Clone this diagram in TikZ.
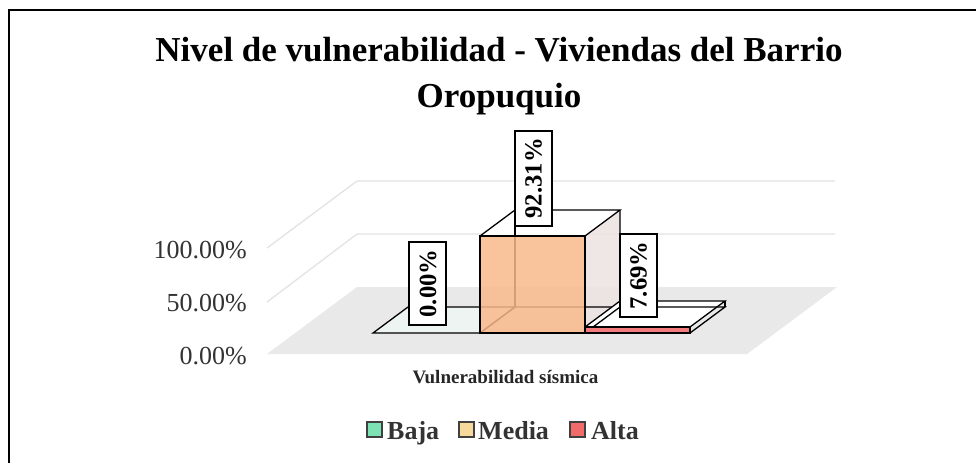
\documentclass[tikz,border=0pt]{standalone}
\usepackage{fontspec}
\setmainfont{Liberation Serif}
\definecolor{bajac}{HTML}{7DE3B4}
\definecolor{mediac}{HTML}{F7D99B}
\definecolor{altac}{HTML}{F26B6B}
\definecolor{orangebar}{HTML}{F9B98A}
\definecolor{redbar}{HTML}{F47B7B}
\definecolor{sideface}{HTML}{EDE2E2}
\definecolor{bajaface}{HTML}{EEF4F2}
\begin{document}
\begin{tikzpicture}[x=1pt,y=-1pt,
  gridline/.style={draw=gray!22, line width=1.3pt},
  edge/.style={draw=black, line width=1.3pt},
  vallabel/.style={draw=black, line width=2pt, fill=white, rotate=90, anchor=west,
    font=\fontsize{24.7}{28}\selectfont\bfseries, inner xsep=7.5pt, inner ysep=10pt,
    text height=17pt, text depth=0pt},
  axlabel/.style={anchor=base east, inner sep=0pt, text=black!80, font=\fontsize{26}{30}\selectfont},
  legsq/.style={draw=black!75, line width=1.8pt, minimum size=15pt, inner sep=0pt},
  legtext/.style={anchor=base west, inner sep=0pt, text=black!80, font=\fontsize{26}{30}\selectfont\bfseries},
  titletext/.style={anchor=base, inner sep=0pt, font=\fontsize{35}{42}\selectfont\bfseries}
]
\useasboundingbox (0,0) rectangle (976,463);
\fill[white] (0,0) rectangle (976,463);
% frame
\draw[line width=2.5pt] (9,463) -- (9,10) -- (976,10);
% title
\node[titletext] (t1) at (499,61) {Nivel de vulnerabilidad - Viviendas del Barrio};
\node[titletext] (t2) at (499,107) {Oropuquio};
% floor and gridlines
\fill[gray!17] (267,354) -- (747,354) -- (837,287) -- (357,287) -- cycle;
\draw[gridline] (267,302) -- (357,234) -- (835,234);
\draw[gridline] (267,248) -- (357,181) -- (835,181);
% axis labels
\node[axlabel] (y100) at (247,258) {100.00\%};
\node[axlabel] (y50) at (247,311) {50.00\%};
\node[axlabel] (y0) at (247,364) {0.00\%};
% Baja (0%)
\fill[bajaface] (373,333) -- (480,333) -- (515,307) -- (408,307) -- cycle;
\draw[edge] (373,333) -- (480,333) -- (515,307) -- (408,307) -- cycle;
% Media (92.31%)
\fill[sideface, opacity=.85] (585,333) -- (620,307) -- (620,210) -- (585,236) -- cycle;
\fill[white] (480,236) -- (585,236) -- (620,210) -- (515,210) -- cycle;
\draw[edge] (480,333) -- (515,307) -- (620,307);
\draw[edge] (515,307) -- (515,210);
\draw[edge] (480,236) -- (515,210) -- (620,210) -- (585,236);
\draw[edge] (620,210) -- (620,307) -- (585,333);
\fill[orangebar, opacity=.85] (480,333) rectangle (585,236);
\draw[edge] (480,333) rectangle (585,236);
% Alta (7.69%)
\fill[white] (585,327) -- (690,327) -- (725,301) -- (620,301) -- cycle;
\draw[edge] (585,333) -- (620,307) -- (725,307) -- (690,333);
\draw[edge] (620,307) -- (620,301);
\draw[edge] (725,307) -- (725,301);
\draw[edge] (585,327) -- (620,301) -- (725,301) -- (690,327);
\fill[redbar] (585,333) rectangle (690,327);
\draw[edge] (585,333) rectangle (690,327);
% value labels
\node[vallabel] (lb) at (427.5,326) {0.00\%};
\node[vallabel] (lm) at (533,227) {92.31\%};
\node[vallabel] (la) at (638,318) {7.69\%};
% category label
\node[anchor=base, inner sep=0pt, text=black!85, font=\fontsize{19}{23}\selectfont\bfseries] (cat) at (505.5,383) {Vulnerabilidad sísmica};
% legend
\node[legsq, fill=bajac] (sqb) at (374.5,429.5) {};
\node[legtext] (tb) at (387,439) {Baja};
\node[legsq, fill=mediac] (sqm) at (466.5,429.5) {};
\node[legtext] (tm) at (478,439) {Media};
\node[legsq, fill=altac] (sqa) at (577.5,429.5) {};
\node[legtext] (ta) at (591,439) {Alta};
\end{tikzpicture}
\end{document}
